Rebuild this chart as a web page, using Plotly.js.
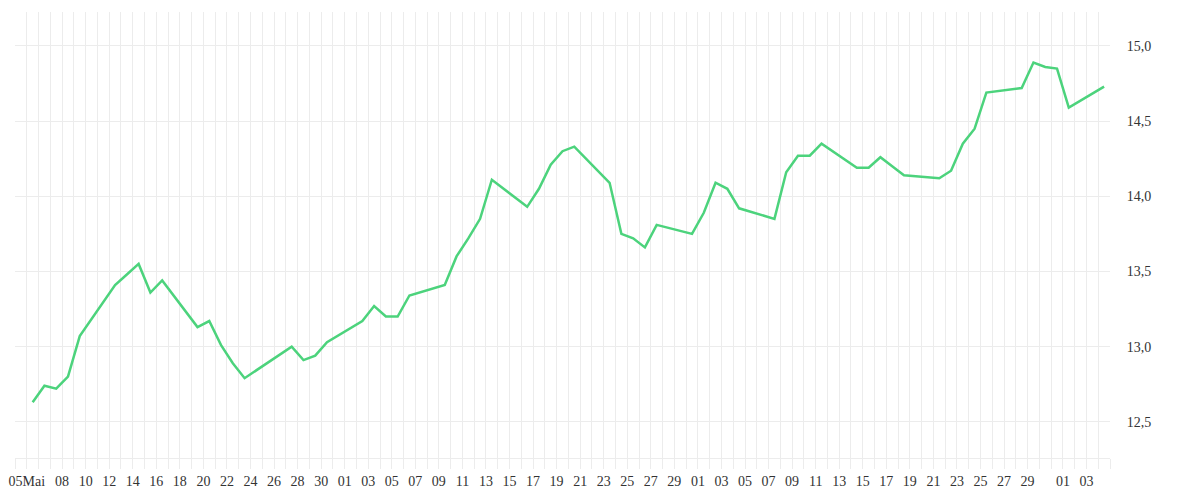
<!DOCTYPE html>
<html>
<head>
<meta charset="utf-8">
<script src="https://cdn.plot.ly/plotly-3.0.1.min.js"></script>
<style>
  html, body { margin: 0; padding: 0; background: #fff; }
  #chart { width: 1200px; height: 500px; }
</style>
</head>
<body>
<div id="chart"></div>
<script>
// trading days (2025) and closing prices
var dates = [
  '2025-05-05', '2025-05-06', '2025-05-07', '2025-05-08', '2025-05-09',
  '2025-05-12', '2025-05-13', '2025-05-14', '2025-05-15', '2025-05-16',
  '2025-05-19', '2025-05-20', '2025-05-21', '2025-05-22', '2025-05-23',
  '2025-05-26', '2025-05-27', '2025-05-28', '2025-05-29', '2025-05-30',
  '2025-06-02', '2025-06-03', '2025-06-04', '2025-06-05', '2025-06-06',
  '2025-06-09', '2025-06-10', '2025-06-11', '2025-06-12', '2025-06-13',
  '2025-06-16', '2025-06-17', '2025-06-18', '2025-06-19', '2025-06-20',
  '2025-06-23', '2025-06-24', '2025-06-25', '2025-06-26', '2025-06-27',
  '2025-06-30', '2025-07-01', '2025-07-02', '2025-07-03', '2025-07-04',
  '2025-07-07', '2025-07-08', '2025-07-09', '2025-07-10', '2025-07-11',
  '2025-07-14', '2025-07-15', '2025-07-16', '2025-07-17', '2025-07-18',
  '2025-07-21', '2025-07-22', '2025-07-23', '2025-07-24', '2025-07-25',
  '2025-07-28', '2025-07-29', '2025-07-30', '2025-07-31', '2025-08-01',
  '2025-08-04'
];
var closes = [
  12.63, 12.74, 12.72, 12.80, 13.07,
  13.41, 13.48, 13.55, 13.36, 13.44,
  13.13, 13.17, 13.01, 12.89, 12.79,
  12.95, 13.00, 12.91, 12.94, 13.03,
  13.17, 13.27, 13.20, 13.20, 13.34,
  13.41, 13.60, 13.72, 13.85, 14.11,
  13.93, 14.05, 14.21, 14.30, 14.33,
  14.09, 13.75, 13.72, 13.66, 13.81,
  13.75, 13.89, 14.09, 14.05, 13.92,
  13.85, 14.16, 14.27, 14.27, 14.35,
  14.19, 14.19, 14.26, 14.20, 14.14,
  14.12, 14.17, 14.35, 14.45, 14.69,
  14.72, 14.89, 14.86, 14.85, 14.59,
  14.73
];

// x axis labels
var tickDates = [
  '2025-05-05', '2025-05-08', '2025-05-10', '2025-05-12', '2025-05-14',
  '2025-05-16', '2025-05-18', '2025-05-20', '2025-05-22', '2025-05-24',
  '2025-05-26', '2025-05-28', '2025-05-30',
  '2025-06-01', '2025-06-03', '2025-06-05', '2025-06-07', '2025-06-09',
  '2025-06-11', '2025-06-13', '2025-06-15', '2025-06-17', '2025-06-19',
  '2025-06-21', '2025-06-23', '2025-06-25', '2025-06-27', '2025-06-29',
  '2025-07-01', '2025-07-03', '2025-07-05', '2025-07-07', '2025-07-09',
  '2025-07-11', '2025-07-13', '2025-07-15', '2025-07-17', '2025-07-19',
  '2025-07-21', '2025-07-23', '2025-07-25', '2025-07-27', '2025-07-29',
  '2025-08-01', '2025-08-03'
];
var tickLabels = [
  '05Mai', '08', '10', '12', '14', '16', '18', '20', '22', '24', '26', '28', '30',
  '01', '03', '05', '07', '09', '11', '13', '15', '17', '19', '21', '23', '25', '27', '29',
  '01', '03', '05', '07', '09', '11', '13', '15', '17', '19', '21', '23', '25', '27', '29',
  '01', '03'
];
var yTicks = [12.5, 13.0, 13.5, 14.0, 14.5, 15.0];

var gridColor = '#ececec';
var labelFont = { family: 'Liberation Serif, DejaVu Serif, serif', size: 14, color: '#333333' };

// each close sits in the middle of its day
var trace = {
  x: dates.map(function(d) { return d + ' 12:00'; }),
  y: closes,
  type: 'scatter',
  mode: 'lines',
  line: { color: '#4cd37c', width: 2.5 },
  hoverinfo: 'x+y'
};

var layout = {
  width: 1200,
  height: 500,
  margin: { l: 15, r: 90, t: 12, b: 42 },
  paper_bgcolor: '#ffffff',
  plot_bgcolor: '#ffffff',
  separators: ',.',
  showlegend: false,
  xaxis: {
    type: 'date',
    range: ['2025-05-04', '2025-08-05'],
    tickmode: 'array',
    tickvals: tickDates,
    ticktext: tickLabels,
    tickangle: 0,
    tickfont: labelFont,
    showgrid: true,
    gridcolor: gridColor,
    gridwidth: 1,
    ticks: 'outside',
    ticklen: 10,
    tickcolor: gridColor,
    showline: true,
    linecolor: gridColor,
    linewidth: 1,
    zeroline: false,
    minor: {
      dtick: 86400000,
      tick0: '2025-05-04',
      showgrid: true,
      gridcolor: gridColor,
      gridwidth: 1,
      ticks: 'outside',
      ticklen: 10,
      tickcolor: gridColor
    }
  },
  yaxis: {
    side: 'right',
    range: [12.259, 15.226],
    tickmode: 'array',
    tickvals: yTicks,
    tickformat: '.1f',
    tickfont: labelFont,
    // invisible ticks push the labels away from the plot edge
    ticks: 'outside',
    ticklen: 13,
    tickcolor: 'rgba(0,0,0,0)',
    showgrid: true,
    gridcolor: gridColor,
    gridwidth: 1,
    zeroline: false,
    showline: false
  }
};

Plotly.newPlot('chart', [trace], layout, { displayModeBar: false, responsive: false });
</script>
</body>
</html>
